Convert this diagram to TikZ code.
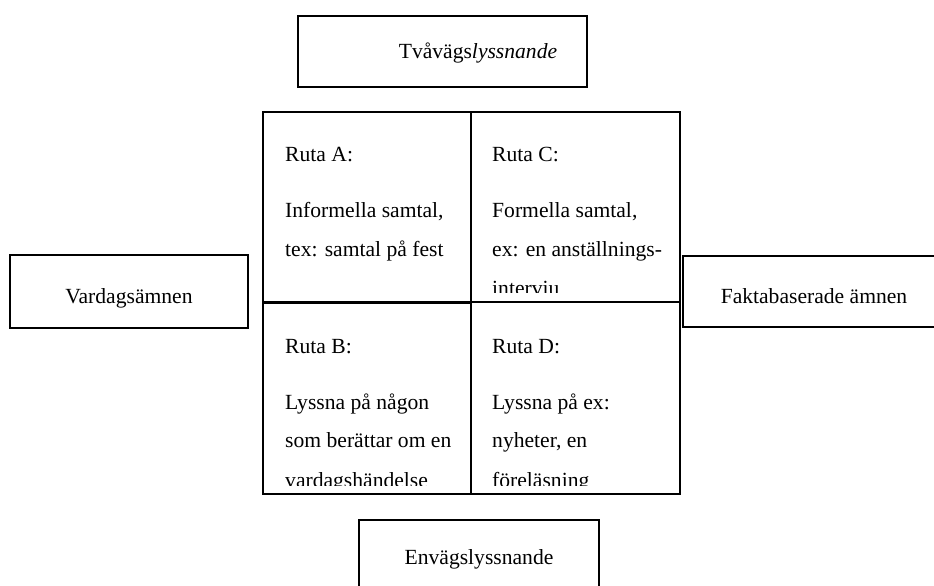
\documentclass[tikz,border=0pt]{standalone}
\usepackage{fontspec}
\setmainfont{Liberation Serif}
\begin{document}
\begin{tikzpicture}[x=1pt,y=-1pt,
  box/.style={draw=black,line width=1.7pt},
  lbl/.style={anchor=base west,inner sep=0pt,font=\fontsize{21.6}{24}\selectfont},
  clbl/.style={anchor=base,inner sep=0pt,font=\fontsize{21.6}{24}\selectfont}]
\useasboundingbox (0,0) rectangle (934,586);
% outer boxes
\draw[box] (298,16) rectangle (587,87);
\node[clbl] (tva) at (478,59) {Tvåvägs\textit{lyssnande}};
\draw[box] (10,255) rectangle (248,328);
\node[clbl] (vard) at (129,303) {Vardagsämnen};
\draw[box] (683,256) rectangle (945,327);
\node[clbl] (fakta) at (814,303) {Faktabaserade ämnen};
\draw[box] (359,520) rectangle (599,600);
\node[clbl] (env) at (479,564) {Envägslyssnande};
% top row text
\begin{scope}
\clip (263,112) rectangle (680,292);
\node[lbl] (ra) at (285,161) {Ruta A:};
\node[lbl] (ra1) at (285,217) {Informella samtal,};
\node[lbl] (ra2) at (285,256) {tex: samtal på fest};
\node[lbl] (rc) at (492,161) {Ruta C:};
\node[lbl] (rc1) at (492,217) {Formella samtal,};
\node[lbl] (rc2) at (492,256) {ex: en anställnings-};
\node[lbl] (rc3) at (492,295) {interviu};
\end{scope}
% bottom row text
\begin{scope}
\clip (263,303) rectangle (680,485);
\node[lbl] (rb) at (285,353) {Ruta B:};
\node[lbl] (rb1) at (285,409) {Lyssna på någon};
\node[lbl] (rb2) at (285,447.5) {som berättar om en};
\node[lbl] (rb3) at (285,487) {vardagshändelse};
\node[lbl] (rd) at (492,353) {Ruta D:};
\node[lbl] (rd1) at (492,409) {Lyssna på ex:};
\node[lbl] (rd2) at (492,447.5) {nyheter, en};
\node[lbl] (rd3) at (492,487) {föreläsning};
\end{scope}
% grid cells
\draw[box] (263,112) rectangle (471,303);
\draw[box] (471,112) rectangle (680,302);
\draw[box] (263,302) rectangle (471,494);
\draw[box] (471,302) rectangle (680,494);
\end{tikzpicture}
\end{document}
